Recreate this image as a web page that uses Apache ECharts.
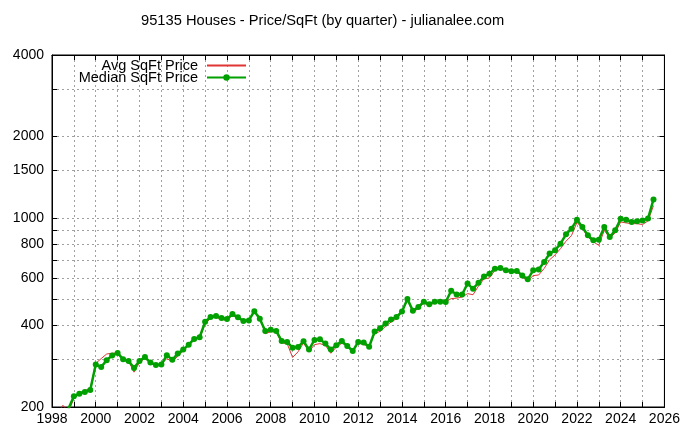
<!DOCTYPE html>
<html>
<head>
<meta charset="utf-8">
<script src="https://cdn.jsdelivr.net/npm/echarts@6/dist/echarts.min.js"></script>
<style>
  html, body { margin: 0; padding: 0; background: #fff; }
  #chart { width: 683px; height: 426px; }
</style>
</head>
<body>
<div id="chart"></div>
<script>
// quarterly price per sqft
var avgStart = 1998.25;
var avgPrice = [190, 203, 192,
  215, 226, 230, 234, 290, 302, 314, 316, 317, 296, 296, 269,
  292, 303, 290, 284, 288, 302, 294, 308, 322, 338, 355, 360,
  405, 425, 430, 420, 420, 436, 426, 414, 418, 450, 432, 373,
  380, 378, 345, 343, 305, 320, 345, 320, 340, 343, 338, 316,
  333, 344, 336, 321, 345, 340, 335, 373, 381, 397, 412, 424,
  449, 496, 449, 462, 485, 471, 489, 489, 489, 503, 505, 510,
  525, 520, 560, 595, 600, 640, 650, 635, 630, 632, 605, 585,
  612, 615, 650, 700, 730, 770, 820, 860, 962, 915, 850, 815,
  792, 900, 842, 880, 966, 958, 952, 952, 945, 975, 1110];

var medStart = 1998.75;
var medPrice = [197,
  219, 224, 227, 231, 287, 281, 298, 310, 317, 300, 296, 279,
  296, 306, 292, 286, 287, 311, 299, 315, 326, 340, 357, 362,
  413, 430, 434, 427, 423, 441, 429, 416, 418, 452, 424, 382,
  386, 382, 351, 348, 331, 333, 350, 326, 354, 356, 343, 326,
  338, 351, 336, 322, 348, 346, 334, 380, 391, 407, 421, 430,
  451, 501, 454, 468, 490, 480, 490, 490, 489, 538, 521, 521,
  572, 547, 576, 607, 622, 649, 653, 640, 635, 637, 613, 593,
  640, 645, 687, 738, 759, 803, 870, 912, 984, 925, 862, 826,
  831, 925, 850, 900, 992, 985, 966, 972, 979, 995, 1170];

var yearTicks = [];
for (var y = 1998; y <= 2026; y++) yearTicks.push(y);
var yearLabels = yearTicks.filter(function (v) { return v % 2 === 0; });
var priceTicks = [200, 300, 400, 500, 600, 700, 800, 900, 1000, 1500, 2000, 3000, 4000];
var priceLabels = [200, 400, 600, 800, 1000, 1500, 2000, 4000];

function toPairs(start, list) {
  return list.map(function (v, i) { return [start + i * 0.25, v]; });
}

var font = 'Liberation Sans, Arial, sans-serif';
var gridLine = { show: true, lineStyle: { color: '#a0a0a0', type: [2, 3], width: 1 } };
function plain(v) { return String(Math.round(v)); }

function xAxisCfg(pos, labels) {
  return {
    type: 'value', position: pos, min: 1998, max: 2026, interval: 2,
    axisLine: { show: true, lineStyle: { color: '#000' } },
    axisTick: { show: true, inside: true, length: 5, customValues: yearTicks, lineStyle: { color: '#000' } },
    axisLabel: labels ? { customValues: yearLabels, formatter: plain, color: '#000', fontFamily: font, fontSize: 14, margin: 5 } : { show: false },
    splitLine: labels ? gridLine : { show: false }
  };
}
function yAxisCfg(pos, labels) {
  return {
    type: 'log', logBase: 10, position: pos, min: 200, max: 4000,
    axisLine: { show: true, lineStyle: { color: '#000' } },
    axisTick: { show: true, inside: true, length: 5, customValues: priceTicks, lineStyle: { color: '#000' } },
    axisLabel: labels ? { customValues: priceLabels, formatter: plain, color: '#000', fontFamily: font, fontSize: 14, margin: 8 } : { show: false },
    splitLine: labels ? gridLine : { show: false }
  };
}

var chart = echarts.init(document.getElementById('chart'));
chart.setOption({
  animation: false,
  backgroundColor: '#fff',
  title: {
    text: '95135 Houses - Price/SqFt (by quarter) - julianalee.com',
    left: 141, top: 13, padding: 0,
    textStyle: { fontFamily: font, fontSize: 14.7, fontWeight: 'normal', color: '#000' }
  },
  grid: { left: 52, right: 12, top: 55, bottom: 19, show: true, borderColor: '#000', borderWidth: 1 },
  legend: {
    orient: 'vertical', align: 'right', right: 436, top: 58, padding: 0,
    itemWidth: 39, itemHeight: 8, itemGap: -3,
    textStyle: { fontFamily: font, fontSize: 14.5, color: '#000', padding: [0, 4, 0, 0] },
    data: [
      { name: 'Avg SqFt Price', itemStyle: { opacity: 0, color: 'transparent' } },
      { name: 'Median SqFt Price' }
    ]
  },
  xAxis: [xAxisCfg('bottom', true), xAxisCfg('top', false)],
  yAxis: [yAxisCfg('left', true), yAxisCfg('right', false)],
  series: [
    {
      name: 'Avg SqFt Price', type: 'line', symbol: 'none',
      lineStyle: { color: '#e03535', width: 1 }, itemStyle: { color: '#e03535' },
      data: toPairs(avgStart, avgPrice)
    },
    {
      name: 'Median SqFt Price', type: 'line', symbol: 'circle', symbolSize: 6,
      lineStyle: { color: '#00a000', width: 2.5 }, itemStyle: { color: '#00a000' },
      data: toPairs(medStart, medPrice)
    }
  ]
});
</script>
</body>
</html>
